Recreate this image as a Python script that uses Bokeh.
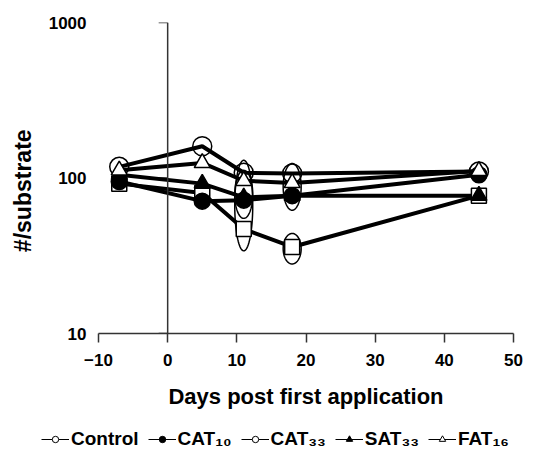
import numpy as np
from bokeh.plotting import figure
from bokeh.layouts import column, row
from bokeh.models import Legend, LegendItem, FixedTicker, SingleIntervalTicker, Span
from bokeh.embed import file_html
from bokeh.resources import INLINE

days = [-7, 5, 11, 18, 45]
control = [92, 80, 47, 36, 77]
cat10 = [95, 71, 72, 77, 105]
cat33 = [118, 160, 108, 107, 110]
sat33 = [105, 92, 75, 77, 77]
fat16 = [112, 125, 96, 93, 111]

# vertical spread ovals drawn around points
ell_day = [11, 11, 18, 18]
ell_lo = [34, 55, 62, 28]
ell_hi = [130, 112, 124, 44]

y_ticks = [10, 100, 1000]
y_cross = 0
FONT = "Liberation Sans"

p = figure(frame_width=415, frame_height=311, output_backend="svg", toolbar_location=None,
           x_range=(-10, 50), y_range=(10, 1000), y_axis_type="log",
           min_border_left=98, min_border_right=24, min_border_top=22,
           min_border_bottom=94)
p.outline_line_color = None
p.xgrid.visible = False
p.ygrid.visible = False

# x axis
xa = p.xaxis[0]
xa.ticker = SingleIntervalTicker(interval=10, num_minor_ticks=0)
xa.major_tick_out = 9
xa.major_tick_in = 0
xa.minor_tick_out = 0
xa.axis_line_width = 1.5
xa.axis_line_color = "#333333"
xa.major_tick_line_width = 1.5
xa.major_tick_line_color = "#333333"
xa.major_label_text_font = FONT
xa.major_label_text_font_style = "bold"
xa.major_label_text_font_size = "17px"
xa.major_label_text_color = "black"
xa.major_label_standoff = 11
xa.axis_label = "Days post first application"
xa.axis_label_text_font = FONT
xa.axis_label_text_font_style = "bold"
xa.axis_label_text_font_size = "22px"
xa.axis_label_text_color = "black"
xa.axis_label_standoff = 15

# y labels axis (left edge)
ya = p.yaxis[0]
ya.ticker = FixedTicker(ticks=y_ticks)
ya.major_label_overrides = {10: "10", 100: "100", 1000: "1000"}
ya.axis_line_alpha = 0
ya.major_tick_out = 0
ya.major_tick_in = 0
ya.minor_tick_out = 0
ya.minor_tick_in = 0
ya.major_label_standoff = 12
ya.major_label_text_font = FONT
ya.major_label_text_font_style = "bold"
ya.major_label_text_font_size = "17px"
ya.major_label_text_color = "black"
ya.axis_label = "#/substrate\u00a0\u00a0\u00a0\u00a0"
ya.axis_label_text_font = FONT
ya.axis_label_text_font_style = "bold"
ya.axis_label_text_font_size = "23px"
ya.axis_label_text_color = "black"
ya.axis_label_standoff = 10

# y axis line crossing at x=0, with left-pointing ticks
p.add_layout(Span(location=y_cross, dimension="height", line_color="#333333", line_width=1.5))
p.ray(x=[y_cross] * len(y_ticks), y=y_ticks, length=9, length_units="screen",
      angle=np.pi, line_color="#333333", line_width=1.5)

# ovals
t = np.linspace(0, 2 * np.pi, 80)
hw = 1.3
xs, ys = [], []
for d, lo, hi in zip(ell_day, ell_lo, ell_hi):
    c = (np.log10(lo) + np.log10(hi)) / 2
    r = (np.log10(hi) - np.log10(lo)) / 2
    xs.append(list(d + hw * np.cos(t)))
    ys.append(list(10 ** (c + r * np.sin(t))))
p.patches(xs, ys, fill_alpha=0, line_color="black", line_width=1.5)

LW = 4
series = [
    (control, "square", "white", 15),
    (cat10, "circle", "black", 16),
    (cat33, "circle", None, 19),
    (sat33, "triangle", "black", 16),
    (fat16, "triangle", "white", 16),
]
for vals, *_ in series:
    p.line(days, vals, line_color="black", line_width=LW)
for vals, mk, fc, sz in series:
    if fc is None:
        p.scatter(days, vals, marker=mk, size=sz, fill_alpha=0, line_color="black", line_width=1.5)
    else:
        p.scatter(days, vals, marker=mk, size=sz, fill_color=fc, line_color="black", line_width=1.5)

# legend strip below the chart
q = figure(width=537, height=25, output_backend="svg", toolbar_location=None,
           x_range=(0, 1), y_range=(0, 1), x_axis_location=None, y_axis_location=None,
           min_border=0, min_border_left=0, min_border_right=0,
           min_border_top=0, min_border_bottom=0)
q.outline_line_color = None
q.xgrid.visible = False
q.ygrid.visible = False

leg_spec = [
    ("Control", "circle", "white", 8),
    ("CAT\u2081\u2080", "circle", "black", 13),
    ("CAT\u2083\u2083", "circle", "white", 13),
    ("SAT\u2083\u2083", "triangle", "black", 14),
    ("FAT\u2081\u2086", "triangle", "white", 14),
]
items = []
for lab, mk, fc, sz in leg_spec:
    lr = q.line(x=[0], y=[0], line_color="black", line_width=1)
    sr = q.scatter(x=[0], y=[0], marker=mk, size=sz, fill_color=fc, line_color="black", line_width=1)
    lr.visible = False
    sr.visible = False
    items.append(LegendItem(label=lab, renderers=[lr, sr]))

legend = Legend(items=items, orientation="horizontal", location=(41, 2),
                label_text_font=FONT, label_text_font_style="bold",
                label_text_font_size="19px", label_text_color="black",
                glyph_width=28, glyph_height=16, spacing=9, label_standoff=2,
                padding=0, margin=0, border_line_alpha=0, background_fill_alpha=0)
q.add_layout(legend, "center")

open("out.html", "w").write(file_html(column(p, row(q), spacing=0), INLINE))
